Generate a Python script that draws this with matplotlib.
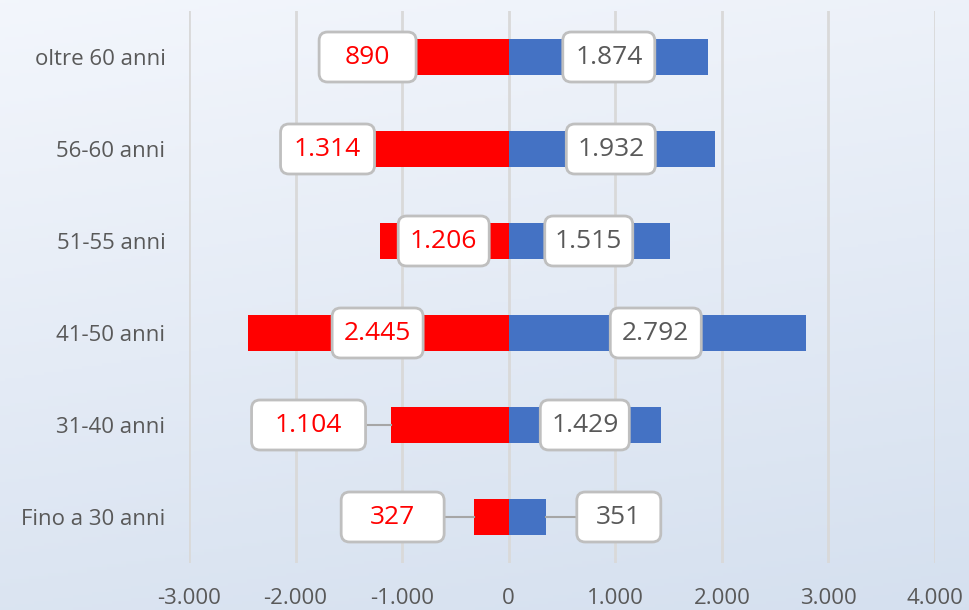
import numpy as np
import matplotlib
matplotlib.use('Agg')
from matplotlib import pyplot as plt
from matplotlib.patches import FancyBboxPatch

# data, bottom row first
categories = ['Fino a 30 anni', '31-40 anni', '41-50 anni', '51-55 anni', '56-60 anni', 'oltre 60 anni']
donne = [327, 1104, 2445, 1206, 1314, 890]      # red, drawn to the left
uomini = [351, 1429, 2792, 1515, 1932, 1874]    # blue, drawn to the right
x_ticks = [-3000, -2000, -1000, 0, 1000, 2000, 3000, 4000]

# where the Excel data labels were dragged to (x centre in data units) and box widths (px)
red_label_x = [-1089, -1878, -1230, -610, -1700, -1324]
blue_label_x = [1033, 714, 1380, 751, 958, 939]
red_box_w = [103, 114, 91, 91, 94, 97]
blue_box_w = [84, 89, 91, 88, 89, 92]

RED = '#FF0000'
BLUE = '#4472C4'
GREY_TXT = '#595959'
FONT = 'Open Sans'


def fmt(v):
	s = f'{abs(int(v)):,}'.replace(',', '.')
	return ('-' if v < 0 else '') + s


fig = plt.figure(figsize=(9.7, 6.1), dpi=100)

# background gradient
bg = fig.add_axes([0, 0, 1, 1], zorder=-10)
yy, xx = np.mgrid[0:1:200j, 0:1:200j]
t = np.clip(0.8 * yy + 0.2 * xx, 0, 1)
top = np.array([0.953, 0.965, 0.988])
bot = np.array([0.835, 0.878, 0.937])
img = top[None, None, :] * (1 - t[..., None]) + bot[None, None, :] * t[..., None]
bg.imshow(img, aspect='auto', extent=[0, 1, 0, 1])
bg.axis('off')

ax = fig.add_axes([189 / 970, 1 - 563 / 610, (935 - 189) / 970, (563 - 11) / 610])
ax.patch.set_alpha(0)

y = np.arange(len(categories))
ax.barh(y, [-v for v in donne], height=0.4, color=RED, zorder=2)
ax.barh(y, uomini, height=0.4, color=BLUE, zorder=2)

ax.set_xlim(-3000, 4000)
ax.set_ylim(-0.5, len(categories) - 0.5)
ax.set_xticks(x_ticks)
ax.set_xticklabels([fmt(v) for v in x_ticks])
ax.set_yticks(y)
ax.set_yticklabels(categories)
ax.tick_params(axis='both', length=0, labelcolor=GREY_TXT, labelsize=16)
ax.tick_params(axis='y', pad=17)
ax.tick_params(axis='x', pad=18)
for lab in ax.get_xticklabels() + ax.get_yticklabels():
	lab.set_fontfamily(FONT)
ax.grid(axis='x', color='#D9D9D9', linewidth=2, zorder=0)
ax.set_axisbelow(True)
for s in ax.spines.values():
	s.set_visible(False)

# px -> data scale
px_x = 7000 / (935 - 189)
px_y = len(categories) / (563 - 11)
box_h = 50 * px_y
aspect = px_y / px_x


def label(xc, yc, w_px, text, color, bar_end):
	w = w_px * px_x
	box = FancyBboxPatch((xc - w / 2, yc - box_h / 2), w, box_h,
		boxstyle='round,pad=0,rounding_size=80', mutation_aspect=aspect,
		facecolor='white', edgecolor='#BFBFBF', linewidth=2, zorder=4)
	ax.add_patch(box)
	ax.text(xc, yc, text, ha='center', va='center', color=color,
		fontsize=19, family=FONT, zorder=5)
	# leader line only when the label sits beyond the end of its bar
	left, right = xc - w / 2, xc + w / 2
	if bar_end < 0 and right < bar_end:
		ax.plot([right, bar_end], [yc, yc], color='#A6A6A6', lw=1.5, zorder=3)
	elif bar_end > 0 and left > bar_end:
		ax.plot([bar_end, left], [yc, yc], color='#A6A6A6', lw=1.5, zorder=3)


for i in range(len(categories)):
	label(red_label_x[i], y[i], red_box_w[i], fmt(donne[i]), RED, -donne[i])
	label(blue_label_x[i], y[i], blue_box_w[i], fmt(uomini[i]), GREY_TXT, uomini[i])

fig.savefig('out.png', dpi=100)
